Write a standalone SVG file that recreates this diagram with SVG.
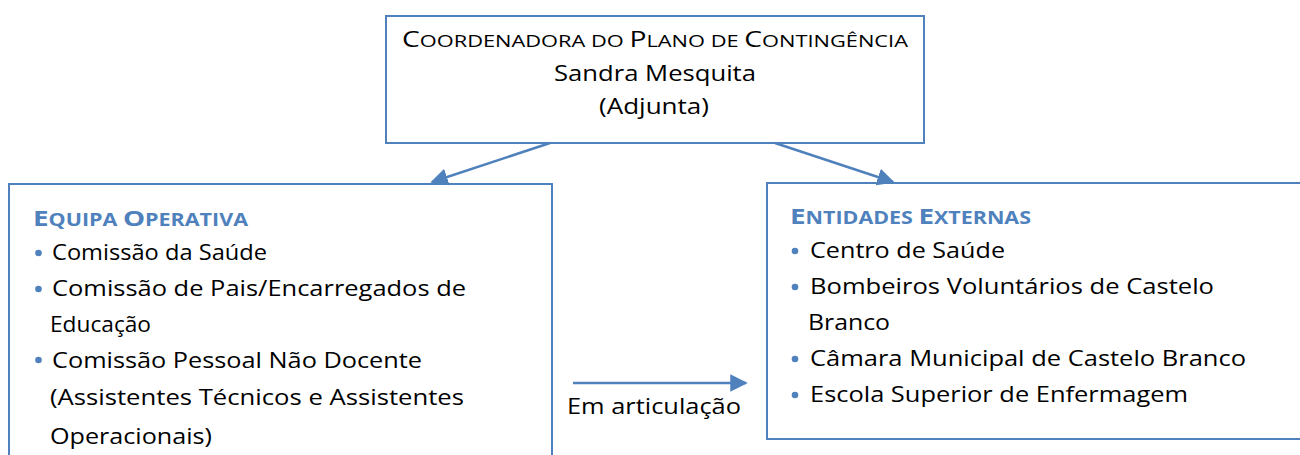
<svg xmlns="http://www.w3.org/2000/svg" width="1300" height="455" viewBox="0 0 1300 455">
<style>
.box{fill:#fff;stroke:#4F81BD;stroke-width:2}
.t{font-family:"Open Sans","Liberation Sans",sans-serif;font-size:22px;fill:#000}
.h{font-family:"Open Sans","Liberation Sans",sans-serif;font-size:22px;font-weight:bold;fill:#4F81BD}
.s{font-size:17px}
.bl{fill:#4F81BD}
.c{stroke:#4F81BD;stroke-width:2.5;fill:none}
</style>
<defs>
<marker id="ah2" viewBox="0 0 10 10" refX="9" refY="5" markerWidth="7" markerHeight="7" orient="auto">
<path d="M0,0 L10,5 L0,10 z" fill="#4F81BD"/>
</marker>
</defs>
<g id="coordenadora">
<rect class="box" x="386" y="16" width="538" height="127"/>
<text class="t" x="402" y="47" textLength="506" lengthAdjust="spacingAndGlyphs">C<tspan class="s">OORDENADORA DO </tspan>P<tspan class="s">LANO DE </tspan>C<tspan class="s">ONTINGÊNCIA</tspan></text>
<text class="t" x="554" y="81" textLength="202" lengthAdjust="spacingAndGlyphs">Sandra Mesquita</text>
<text class="t" x="599" y="114" textLength="110" lengthAdjust="spacingAndGlyphs">(Adjunta)</text>
</g>
<g id="equipa">
<rect class="box" x="9" y="184" width="543" height="290"/>
<text class="h" x="33" y="226" textLength="215" lengthAdjust="spacingAndGlyphs">E<tspan class="s">QUIPA </tspan>O<tspan class="s">PERATIVA</tspan></text>
<circle class="bl" cx="38.5" cy="253" r="3.3"/>
<text class="t" x="52" y="260" textLength="215" lengthAdjust="spacingAndGlyphs">Comissão da Saúde</text>
<circle class="bl" cx="38.5" cy="289" r="3.3"/>
<text class="t" x="52" y="296" textLength="414" lengthAdjust="spacingAndGlyphs">Comissão de Pais/Encarregados de</text>
<text class="t" x="50" y="332" textLength="101" lengthAdjust="spacingAndGlyphs">Educação</text>
<circle class="bl" cx="38.5" cy="360" r="3.3"/>
<text class="t" x="52" y="368" textLength="370" lengthAdjust="spacingAndGlyphs">Comissão Pessoal Não Docente</text>
<text class="t" x="50" y="405" textLength="414" lengthAdjust="spacingAndGlyphs">(Assistentes Técnicos e Assistentes</text>
<text class="t" x="50" y="444" textLength="162" lengthAdjust="spacingAndGlyphs">Operacionais)</text>
</g>
<g id="entidades">
<rect class="box" x="767" y="183" width="540" height="256"/>
<text class="h" x="790" y="224" textLength="241" lengthAdjust="spacingAndGlyphs">E<tspan class="s">NTIDADES </tspan>E<tspan class="s">XTERNAS</tspan></text>
<circle class="bl" cx="795" cy="251" r="3.3"/>
<text class="t" x="810" y="258" textLength="195" lengthAdjust="spacingAndGlyphs">Centro de Saúde</text>
<circle class="bl" cx="795" cy="287" r="3.3"/>
<text class="t" x="810" y="294" textLength="404" lengthAdjust="spacingAndGlyphs">Bombeiros Voluntários de Castelo</text>
<text class="t" x="808" y="330" textLength="82" lengthAdjust="spacingAndGlyphs">Branco</text>
<circle class="bl" cx="795" cy="359" r="3.3"/>
<text class="t" x="810" y="366" textLength="436" lengthAdjust="spacingAndGlyphs">Câmara Municipal de Castelo Branco</text>
<circle class="bl" cx="795" cy="395" r="3.3"/>
<text class="t" x="810" y="402" textLength="378" lengthAdjust="spacingAndGlyphs">Escola Superior de Enfermagem</text>
</g>
<g id="connectors">
<line class="c" x1="550" y1="143" x2="432" y2="182" marker-end="url(#ah2)"/>
<line class="c" x1="775" y1="143" x2="893" y2="182" marker-end="url(#ah2)"/>
<line class="c" x1="573" y1="383" x2="746" y2="383" marker-end="url(#ah2)"/>
<text class="t" x="567" y="414" textLength="174" lengthAdjust="spacingAndGlyphs">Em articulação</text>
</g>
</svg>
